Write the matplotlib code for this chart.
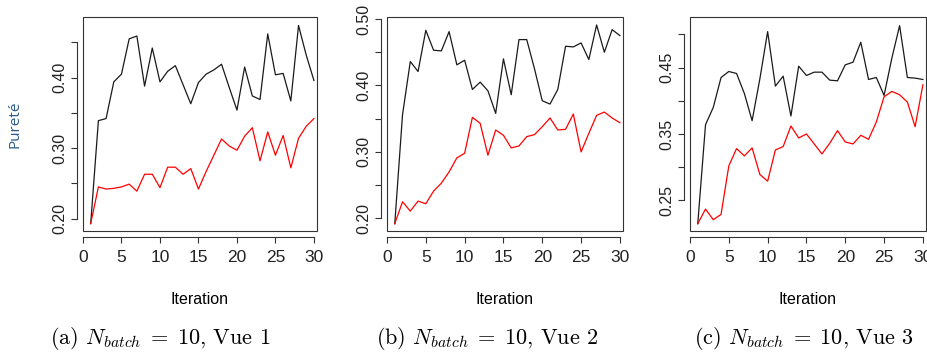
import matplotlib
matplotlib.use("Agg")
import matplotlib.pyplot as plt
from matplotlib.patches import Rectangle

iterations = list(range(1, 31))

# Vue 1
vue1_black = [0.193, 0.339, 0.342, 0.394, 0.405, 0.455, 0.459, 0.388, 0.442, 0.394,
              0.409, 0.417, 0.390, 0.363, 0.393, 0.405, 0.411, 0.419, 0.386, 0.354,
              0.415, 0.374, 0.369, 0.462, 0.404, 0.406, 0.367, 0.474, 0.432, 0.396]
vue1_red = [0.193, 0.245, 0.242, 0.243, 0.245, 0.249, 0.239, 0.263, 0.263, 0.244,
            0.273, 0.273, 0.263, 0.271, 0.242, 0.267, 0.290, 0.313, 0.303, 0.297,
            0.317, 0.329, 0.282, 0.323, 0.290, 0.318, 0.272, 0.314, 0.331, 0.342]

# Vue 2
vue2_black = [0.192, 0.356, 0.436, 0.421, 0.483, 0.453, 0.452, 0.481, 0.431, 0.438,
              0.394, 0.405, 0.392, 0.358, 0.440, 0.386, 0.469, 0.469, 0.425, 0.377,
              0.372, 0.394, 0.459, 0.458, 0.464, 0.439, 0.491, 0.450, 0.484, 0.475]
vue2_red = [0.192, 0.225, 0.211, 0.226, 0.222, 0.241, 0.253, 0.270, 0.291, 0.298,
            0.352, 0.343, 0.295, 0.333, 0.325, 0.306, 0.309, 0.323, 0.326, 0.338,
            0.351, 0.333, 0.334, 0.357, 0.300, 0.328, 0.355, 0.360, 0.351, 0.344]

# Vue 3
vue3_black = [0.215, 0.364, 0.390, 0.435, 0.444, 0.441, 0.411, 0.370, 0.433, 0.504,
              0.422, 0.437, 0.377, 0.452, 0.438, 0.443, 0.443, 0.431, 0.430, 0.454,
              0.458, 0.488, 0.432, 0.435, 0.408, 0.464, 0.513, 0.435, 0.434, 0.432]
vue3_red = [0.215, 0.237, 0.221, 0.229, 0.302, 0.328, 0.317, 0.329, 0.289, 0.279,
            0.326, 0.331, 0.362, 0.344, 0.350, 0.335, 0.320, 0.336, 0.355, 0.338,
            0.335, 0.348, 0.342, 0.368, 0.406, 0.414, 0.409, 0.398, 0.361, 0.424]

captions = [r"(a) $N_{batch}\;=\;10$, Vue 1",
            r"(b) $N_{batch}\;=\;10$, Vue 2",
            r"(c) $N_{batch}\;=\;10$, Vue 3"]

plt.rcParams['mathtext.fontset'] = 'cm'

W, H = 928, 358
fig = plt.figure(figsize=(W / 100, H / 100), dpi=100)

# pixel boxes: left, right, top, bottom
boxes = [(83, 317, 17, 231), (387, 623, 17, 231), (690, 926, 17, 231)]
ylims = [(0.1825, 0.486), (0.181, 0.503), (0.204, 0.526)]
yticks = [[0.20, 0.25, 0.30, 0.35, 0.40, 0.45],
          [0.20, 0.25, 0.30, 0.35, 0.40, 0.45, 0.50],
          [0.25, 0.30, 0.35, 0.40, 0.45, 0.50]]
ylabels = [["0.20", "", "0.30", "", "0.40", ""],
           ["0.20", "", "0.30", "", "0.40", "", "0.50"],
           ["0.25", "", "0.35", "", "0.45", ""]]
series = [(vue1_black, vue1_red), (vue2_black, vue2_red), (vue3_black, vue3_red)]
caption_x = [160, 487, 804]

for i, (l, r, t, b) in enumerate(boxes):
    ax = fig.add_axes([l / W, 1 - b / H, (r - l) / W, (b - t) / H])
    black, red = series[i]
    ax.plot(iterations, black, color='#1a1a1a', lw=0.9)
    ax.plot(iterations, red, color='#ff0000', lw=0.9)
    ax.set_xlim(0, 30.4)
    ax.set_ylim(*ylims[i])

    for s in ['top', 'right']:
        ax.spines[s].set_visible(False)
    ax.spines['left'].set_position(('outward', 4))
    ax.spines['bottom'].set_position(('outward', 4))
    ax.spines['left'].set_bounds(yticks[i][0], yticks[i][-1])
    ax.spines['bottom'].set_bounds(0, 30)
    for s in ['left', 'bottom']:
        ax.spines[s].set_color('#333333')
        ax.spines[s].set_linewidth(0.8)
    ax.add_patch(Rectangle((0, 0), 1, 1, transform=ax.transAxes, fill=False,
                           edgecolor='#333333', lw=0.8, clip_on=False))

    ax.set_xticks([0, 5, 10, 15, 20, 25, 30])
    ax.set_yticks(yticks[i])
    ax.set_yticklabels(ylabels[i], rotation=90, va='center')
    ax.tick_params(axis='both', length=4.5, width=0.8, color='#333333',
                   labelcolor='#222222')
    ax.tick_params(axis='y', pad=3, labelsize=11.5)
    ax.tick_params(axis='x', pad=5.5, labelsize=12.5)
    for lab in ax.get_xticklabels() + ax.get_yticklabels():
        lab.set_family('Liberation Sans')

    ax.set_xlabel("Iteration", family='Liberation Sans', fontsize=11.5,
                  labelpad=19)
    if i == 0:
        ax.set_ylabel("Pureté", family='Open Sans', fontsize=11,
                      color='#2b5a8c', labelpad=21)

    fig.text(caption_x[i] / W, 1 - 339 / H, captions[i], ha='center', va='center',
             family='cmr10', fontsize=16)

fig.savefig("out.png", dpi=100)
